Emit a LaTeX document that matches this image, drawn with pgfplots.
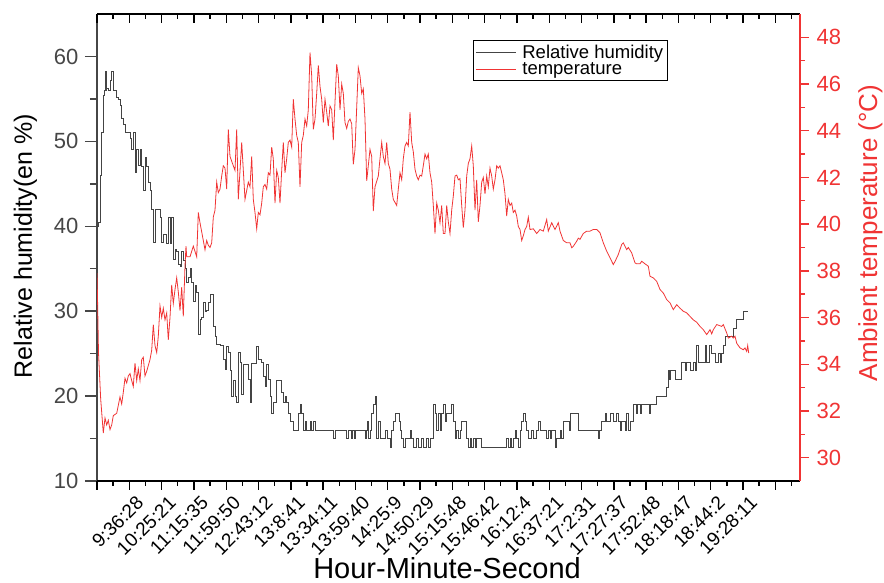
\documentclass[border=0pt]{standalone}
\usepackage{pgfplots}
\usepackage{pgfplotstable}
\pgfplotsset{compat=1.18}
\usepackage{fontspec}
\setmainfont{Liberation Sans}

\definecolor{humid}{RGB}{68,68,68}
\definecolor{tempred}{RGB}{240,52,52}
\definecolor{axgray}{RGB}{70,70,70}

% x = sample position (0 = first tick), humidity in %
\pgfplotstableread{
x y
0 40
1.5 40.5
3 46
4.7 51
6.3 55.4
7.2 56
8 58.2
9 56
9.7 56.2
11.3 56
13 57.2
14.7 58.2
16.3 56
18 56
19.7 55.2
21.3 55
23 54.2
24.7 52.7
26.3 52
28 51.1
29.7 51
31.3 51
33 50.3
34.7 49.1
36.3 51
38 46.4
39.7 49.1
41.3 47.2
43 49
44.7 47
46.3 44.2
48 48.1
49.7 47
51.3 45.2
53 44.2
54.7 42
56.3 38.1
58 42
61.3 42
63 41
64.7 38.1
66.3 39
69.7 38
71.3 41
73 38
74.7 41
76.3 36.1
78 37.3
79.7 37
81.3 35.5
83 35.3
84.7 37
86.3 36
88 35
89.7 33.4
91.3 34
93 35
94.7 33.4
96.3 31.2
98 33
99.7 32.2
101.3 27.3
103 29
104.7 29.3
106.3 31
108 30
109.7 30.1
111.3 31
113 32
114.7 32
116.3 28.2
118 27
119.7 26.1
123 26
126.3 24.3
128 23.1
129.7 25.9
131.3 25.2
133 23
134.7 20
136.3 21.9
138 20
139.7 19.2
141.3 25.1
143 24
144.7 20.2
146.3 23.7
149.7 23.7
151.3 22
153 19.2
154.7 23.9
156.3 23.9
159.7 25.9
161.3 24.3
164.7 24
166.3 22.3
168 21.1
169.7 23.7
171.3 22
173 20
174.7 18
176.3 19.2
179.7 21.9
183 21.9
184.7 20.4
186.3 19.2
188 20
189.7 19.2
191.3 18
193 17
196.3 16
199.7 16
201.3 18
203 19
204.7 18
206.3 16
208 17
209.7 16
213 17
214.7 16
216.3 17
218 16
236.3 15
238 16
249.7 15
251.3 16
254.7 15
255.7 16
257 15
258 16
268 15
269.7 16
270.7 17
271.7 15
273 16
274.7 18
276.3 19
278 20
279 17
279.7 15
281.3 17
283 15
288 16
290 15
293 14
294.7 16
296.3 17
298 18
301.3 18
302.3 17
303.7 16
304.7 15
306.3 14
308 15
313 16
314.7 15
316.3 14
319.7 15
321.3 14
324.7 15
326.3 14
329.7 15
331.3 14
333 15
336.3 19
338 18
339.7 16
341.3 18
343 16
344.7 18
346.3 19
348 17
349.7 18
354.7 19
356.3 17
358 15
359.7 16
361.3 15
363 16
364.7 17
369.7 15
371.3 14
373 15
374.7 14
376.3 15
378 14
379.7 15
384.7 14
409.7 15
411.3 14
413 15
414.7 14
416.3 15
418 16
419.7 15
421.3 14
423 16
424.7 17
426.3 18
428 17
429.7 16
431.3 15
434.7 16
436.3 15
439.7 16
441.3 17
443 16
449.7 15
451.3 16
453 15
454.7 16
458 14
459.7 15
463 16
464 15
466.3 17
472.3 16
473 18
481.3 16
501.3 15
502.3 16
504.7 17
508 18
509.7 17
513 18
516.3 17
519.7 18
521.3 17
523 16
524.7 17
528 16
529.7 18
531.3 16
533 17
536.3 19
539 18
540.3 19
543 18
544.7 19
551.3 19
552.3 18
553 19
559.7 20
569.7 21
571.3 23
572.3 22
573.7 23
578 22
584.7 24
588 23
589.7 24
593 23
596.3 24
598 23
599.7 26
601.3 24
608 26
609.7 24
612.3 26
614.7 25
618 24
621.3 25
623 24
624.7 25
626.3 26
628 27
636.3 28
639.7 29
646.3 30
650.7 30
}\humtable

% temperature in degrees C
\pgfplotstableread{
x y
0 37.9
0.5 36.9
1.5 34.5
3.7 32.5
6.3 31.05
8 31.7
9.7 31.4
11.3 31.6
13 31.2
14.7 31.4
16.3 31.8
19.7 31.9
23 32.6
24.7 32.3
26.3 32.8
28 33.4
29.7 33.2
31.3 33.5
33 33.6
34.7 33.3
36.3 33.05
38 34.05
39.7 33.3
41.3 33.8
43 33.3
44.7 34.2
46.3 34.3
48 33.5
49.7 33.7
53 34.2
54.7 34.6
56.3 35.7
58 34.8
59.7 34.5
61.3 35.2
63 36.5
64.7 36.0
66.3 36.4
68 35.9
69.7 36.2
71.3 35.05
73 36
74.7 37.4
76.3 36.6
78 37.2
79.7 37.7
81.3 37.1
83 36.3
84.7 37.3
86.3 36.05
88 38.2
89 39.06
89.7 38.6
93 38.6
96.3 39.06
99.7 38.6
101.3 40.5
103 40.06
106.3 39.3
108 38.9
109.7 39.3
111.3 39.1
113 39.0
114.7 39.2
116.3 40.3
118 40.6
119.7 41.8
121.3 41.35
123 41.5
124.7 42.06
126.3 42.5
128 42.4
129.7 41.5
131.3 44.06
133 42.9
136.3 42.5
138 42.3
139.7 44.06
141.3 41.06
144.7 43.5
148 41.06
151.3 41.8
153 41.6
154.7 42.9
156.3 41.06
158 40.5
159.7 39.8
161.3 40.5
163 40.4
164.7 40.9
166.3 41.6
168 41.7
169.7 41.5
171.3 42.2
173 42.1
174.7 43.3
176.3 42.8
178 40.9
179.7 42.3
181.3 42.0
183 40.9
184.7 42.3
186.3 43.5
188 42.2
189.7 42.8
191.3 43.5
193 43.6
194.7 43.3
196.3 45.35
198 44.5
199.7 43.8
201.3 43.5
203 41.6
204.7 43.5
206.3 43.8
208 44.5
209.7 44.2
211.3 44.9
213 47.35
214.7 46.35
216.3 44.06
218 44.5
219.7 45.6
221.3 46.8
223 45.9
224.7 45.35
226.3 44.35
228 45.35
229.7 44.8
231.3 44.2
233 45.06
234.7 44.9
236.3 43.6
239.7 46.85
241.3 46.35
243 44.9
244.7 46.0
246.3 45.6
248 44.35
249.7 44.1
251.3 44.4
253 44.5
254.7 44.3
256.3 42.56
258 43.2
261.3 46.7
263 46.35
264.7 45.6
266.3 45.8
268 44.5
269.7 41.85
273 43.2
274.7 42.9
276.3 40.56
278 41.6
281.3 42.06
283 42.8
284.7 43.5
286.3 42.9
288 42.6
289.7 43.5
291.3 42.6
293 42.35
294.7 41.5
296.3 41.06
299.7 40.8
301.3 41.5
303 42.2
304.7 41.9
306.3 42.8
308 43.35
309.7 43.5
311.3 43.35
313 44.8
314.7 43.5
316.3 43.1
318 42.35
319.7 42.06
321.3 41.9
323 42.1
324.7 42.06
326.3 42.5
328 43.0
329.7 42.8
331.3 43.0
333 42.2
334.7 41.8
336.3 40.8
338 39.6
339.7 40.9
341.3 40.6
343 40.06
344.7 40.8
346.3 39.6
348 39.6
349.7 40.8
351.3 40.1
353 39.6
354.7 40.6
356.3 41.2
358 42.06
359.7 42.1
361.3 41.9
363 41.95
364.7 40.8
366.3 39.85
368 40.6
369.7 42.06
371.3 42.6
373 42.8
374.7 43.35
376.3 42.5
378 40.6
379.7 41.9
381.3 40.1
383 40.8
384.7 41.8
386.3 42.0
388 41.3
389.7 42.06
391.3 41.6
393 42.4
394.7 42.06
396.3 41.5
398 41.9
399.7 42.5
401.3 42.4
403 42.5
404.7 42.2
406.3 41.9
408 41.3
409.7 40.35
411.3 41.06
413 40.8
414.7 40.9
416.3 40.5
418 40.6
419.7 40.35
421.3 39.9
423 39.77
424.7 39.3
426.3 39.5
428 39.77
429.7 39.9
431.3 40.3
433 39.77
436.3 39.8
439.7 39.6
443 39.77
446.3 39.7
449.7 40.2
451.3 39.7
454.7 40.06
458 39.77
461.3 40.06
463 39.7
466.3 39.3
469.7 39.2
473 39.2
474.7 38.99
476.3 39.05
479.7 39.27
481.3 39.4
483 39.35
486.3 39.6
489.7 39.7
493 39.7
496.3 39.77
499.7 39.77
503 39.63
506.3 39.2
509.7 38.84
513 38.56
516.3 38.27
518 38.4
521.3 38.7
524.7 39.13
526.3 39.2
529.7 38.91
531.3 39.0
534.7 38.77
538 38.34
539.7 38.3
543 38.3
544.7 38.41
548 38.3
551.3 38.2
553 37.77
556.3 37.7
559.7 37.55
563 37.2
566.3 37.05
569.7 36.77
573 36.63
576.3 36.34
579.7 36.55
583 36.4
586.3 36.27
589.7 36.2
593 36.05
596.3 35.9
599.7 35.8
603 35.62
606.3 35.48
609.7 35.27
613 35.48
614.7 35.3
616.3 35.48
619.7 35.7
624.7 35.62
626.3 35.7
629.7 35.34
631.3 35.12
634.7 35.2
636.3 35.12
638 35.2
639.7 34.9
643 34.7
646.3 34.62
648 34.7
649.7 34.55
650.7 34.8
651.7 34.48
}\temptable

\pgfplotsset{
  base/.style={
    width=703pt, height=467pt, scale only axis,
    xmin=0, xmax=703,
    /pgf/number format/assume math mode=true,
    major tick length=9pt, minor tick length=5pt,
    xtick={0,32.3,64.6,96.9,129.2,161.5,193.8,226.1,258.4,290.7,323,355.3,387.6,419.9,452.2,484.5,516.8,549.1,581.4,613.7,646,678.3},
    minor xtick={16.15,48.45,80.75,113.05,145.35,177.65,209.95,242.25,274.55,306.85,339.15,371.45,403.75,436.05,468.35,500.65,532.95,565.25,597.55,629.85,662.15,694.45},
  },
}

\begin{document}
\begin{tikzpicture}
\useasboundingbox (-97pt,-102pt) rectangle (787pt,481pt);

% humidity, left axis
\begin{axis}[base,
  ymin=10, ymax=65,
  hide x axis,
  axis y line*=left,
  tick align=outside,
  major tick length=12pt, minor tick length=7pt,
  y axis line style={-, line width=1.5pt, axgray},
  y tick style={axgray, line width=1.4pt},
  ytick={10,20,...,60}, minor ytick={15,25,...,55},
  yticklabel style={font=\fontsize{22}{26}\selectfont, text=axgray, xshift=-3pt},
  ylabel={Relative humidity(en \%)},
  ylabel style={font=\fontsize{25}{30}\selectfont, at={(axis description cs:-0.102,0.503)}, anchor=center},
]
\addplot[const plot, humid, line width=0.8pt] table {\humtable};
\end{axis}

% bottom axis with time labels
\begin{axis}[base,
  ymin=0, ymax=1,
  hide y axis,
  axis x line*=bottom,
  tick align=outside,
  x axis line style={-, line width=1.5pt, black},
  x tick style={black, line width=1.4pt},
  xticklabels={,9:36:28,10:25:21,11:15:35,11:59:50,12:43:12,13:8:41,13:34:11,13:59:40,14:25:9,14:50:29,15:15:48,15:46:42,16:12:4,16:37:21,17:2:31,17:27:37,17:52:48,18:18:47,18:44:2,19:28:11,},
  xticklabel style={xshift=6pt, yshift=-3pt, rotate=45, anchor=north east,
    font=\fontsize{19}{22}\selectfont, inner sep=1pt},
  xlabel={Hour-Minute-Second},
  xlabel style={font=\fontsize{29}{33}\selectfont, at={(axis description cs:0.498,-0.186)}, anchor=center, inner sep=0pt},
]
\end{axis}

% top axis line with inward ticks
\begin{axis}[base,
  ymin=0, ymax=1,
  hide y axis,
  axis x line*=top,
  tick align=inside,
  x axis line style={-, line width=1.5pt, black},
  x tick style={black, line width=1.4pt},
  xticklabels={},
]
\end{axis}

% temperature, right axis
\begin{axis}[base,
  ymin=29, ymax=49,
  hide x axis,
  axis y line*=right,
  tick align=outside,
  y axis line style={-, line width=1.5pt, tempred},
  y tick style={tempred, line width=1.4pt},
  ytick={30,32,...,48}, minor ytick={31,33,...,47},
  yticklabel style={font=\fontsize{22}{26}\selectfont, text=tempred, xshift=4pt},
  ylabel={Ambient temperature (°C)},
  ylabel style={font=\fontsize{26}{30}\selectfont, text=tempred, at={(axis description cs:1.1,0.531)}, anchor=center},
  legend style={at={(0.535,0.944)}, anchor=north west, draw=black, line width=0.9pt,
    font=\fontsize{18.5}{21}\selectfont, inner sep=2pt, row sep=-1pt},
  legend cell align=left,
  legend image code/.code={\draw[#1] (0pt,0pt) -- (40pt,0pt); \path (44pt,0pt);},
]
\addlegendimage{humid, line width=0.8pt}
\addlegendentry{Relative humidity}
\addplot[tempred, line width=0.8pt] table {\temptable};
\addlegendentry{temperature}
\end{axis}
\end{tikzpicture}
\end{document}
